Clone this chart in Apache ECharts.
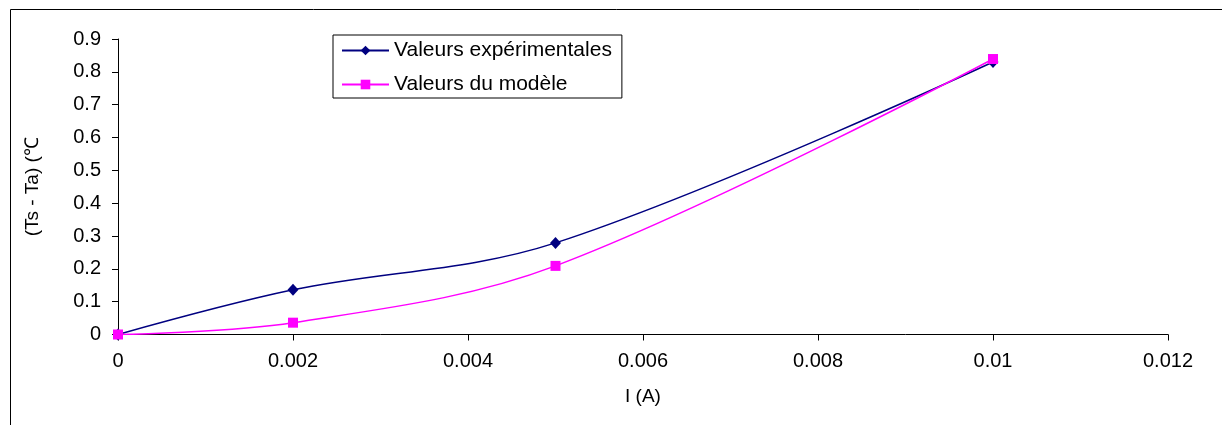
<!DOCTYPE html>
<html>
<head>
<meta charset="utf-8">
<script src="https://cdn.jsdelivr.net/npm/echarts@6/dist/echarts.min.js"></script>
<style>
  html, body { margin: 0; padding: 0; background: #fff; }
  #chart { width: 1222px; height: 425px; }
</style>
</head>
<body>
<div id="chart"></div>
<script>
// courant I (A)
const courant = [0, 0.002, 0.005, 0.01];
// (Ts - Ta)
const experimental = [0, 0.136, 0.279, 0.830];
const modele = [0, 0.036, 0.209, 0.839];
const seriesNames = ["Valeurs expérimentales", "Valeurs du modèle"];

const font = "Arial, 'Liberation Sans', sans-serif";

const chart = echarts.init(document.getElementById("chart"));

const pairs = (xs, ys) => xs.map((x, i) => [x, ys[i]]);

chart.setOption({
  animation: false,
  backgroundColor: "#fff",
  graphic: [
    {
      type: "rect",
      left: 8,
      top: 7,
      shape: { width: 1213, height: 440 },
      style: { fill: "none", stroke: "#000", lineWidth: 1 },
      silent: true,
    },
  ],
  grid: { left: 118, right: 54, top: 39, bottom: 90.5 },
  legend: {
    orient: "vertical",
    left: 333,
    top: 35,
    padding: [5, 10, 3, 8],
    itemGap: 13,
    itemWidth: 47,
    itemHeight: 12,
    borderColor: "#000",
    borderWidth: 1,
    textStyle: { fontFamily: font, fontSize: 21, color: "#000" },
    data: seriesNames,
  },
  xAxis: {
    type: "value",
    min: 0,
    max: 0.012,
    interval: 0.002,
    name: "I (A)",
    nameLocation: "middle",
    nameGap: 53,
    nameTextStyle: { fontFamily: font, fontSize: 19, color: "#000" },
    axisLine: { lineStyle: { color: "#000", width: 1 } },
    axisTick: { show: true, length: 6, lineStyle: { color: "#000" } },
    axisLabel: {
      margin: 17,
      fontFamily: font,
      fontSize: 20,
      color: "#000",
      formatter: (v) => String(+v.toFixed(3)),
    },
    splitLine: { show: false },
  },
  yAxis: {
    type: "value",
    min: 0,
    max: 0.9,
    interval: 0.1,
    name: "(Ts - Ta) (℃",
    nameLocation: "middle",
    nameRotate: 90,
    nameGap: 76,
    nameTextStyle: { fontFamily: font, fontSize: 19, color: "#000" },
    axisLine: { show: true, lineStyle: { color: "#000", width: 1 } },
    axisTick: { show: true, length: 6, lineStyle: { color: "#000" } },
    axisLabel: {
      margin: 17,
      fontFamily: font,
      fontSize: 20,
      color: "#000",
      formatter: (v) => String(+v.toFixed(1)),
    },
    splitLine: { show: false },
  },
  series: [
    {
      name: seriesNames[0],
      type: "line",
      smooth: 0.35,
      data: pairs(courant, experimental),
      symbol: "diamond",
      symbolSize: [11, 12],
      itemStyle: { color: "#000080" },
      lineStyle: { color: "#000080", width: 1.5 },
      z: 2,
    },
    {
      name: seriesNames[1],
      type: "line",
      smooth: 0.35,
      data: pairs(courant, modele),
      symbol: "rect",
      symbolSize: 10,
      itemStyle: { color: "#ff00ff" },
      lineStyle: { color: "#ff00ff", width: 1.5 },
      z: 3,
    },
  ],
});
</script>
</body>
</html>
